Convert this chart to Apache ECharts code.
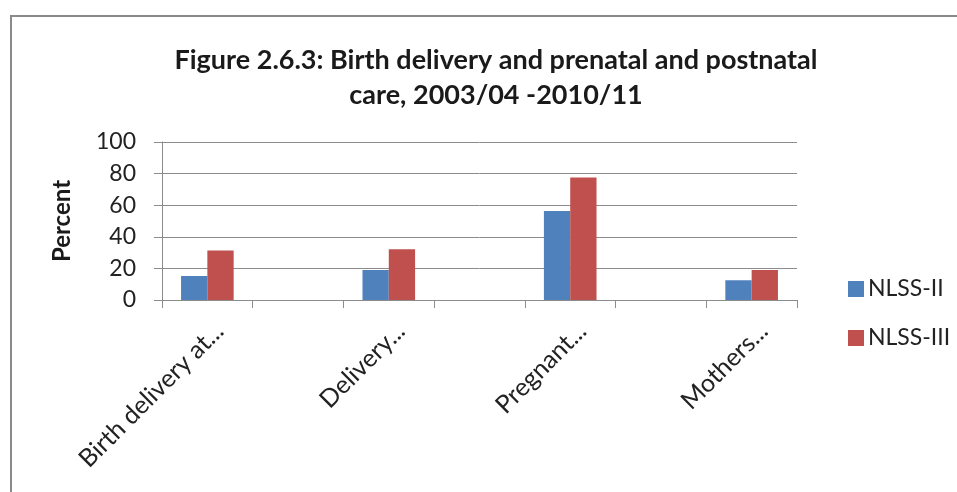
<!DOCTYPE html>
<html>
<head>
<meta charset="utf-8">
<script src="https://cdn.jsdelivr.net/npm/echarts@6/dist/echarts.min.js"></script>
<style>
html,body{margin:0;padding:0;background:#fff;}
#c{width:957px;height:492px;}
</style>
</head>
<body>
<div id="c"></div>
<script>
const titleLines = ["Figure 2.6.3: Birth delivery and prenatal and postnatal", "care, 2003/04 -2010/11"];
const categories = ["Birth delivery at...", "", "Delivery...", "", "Pregnant...", "", "Mothers..."];
const seriesNames = ["NLSS-II", "NLSS-III"];
const nlss2 = [15.2, null, 19.0, null, 56.4, null, 12.5];
const nlss3 = [31.3, null, 32.1, null, 77.6, null, 19.0];
const yTicks = [0, 20, 40, 60, 80, 100];
const yName = "Percent";

const chart = echarts.init(document.getElementById('c'), null, {renderer: 'canvas'});
const font = 'Lato, "Open Sans", sans-serif';
chart.setOption({
  animation: false,
  backgroundColor: '#fff',
  graphic: [{
    type: 'rect', silent: true, z: 0,
    shape: {x: 11, y: 16, width: 1000, height: 600},
    style: {fill: '#fff', stroke: '#8a8a8a', lineWidth: 2}
  }],
  title: {
    text: titleLines.join('\n'),
    left: 491, textAlign: 'center', top: 38,
    textStyle: {fontFamily: font, fontWeight: 'bold', fontSize: 27, lineHeight: 35, color: '#1a1a1a'}
  },
  legend: {
    orient: 'vertical', left: 843, top: 272, itemGap: 25,
    itemWidth: 16, itemHeight: 16, icon: 'rect',
    textStyle: {fontFamily: font, fontSize: 23, lineHeight: 24, color: '#222', padding: [0, 0, 0, -1]},
    data: seriesNames
  },
  grid: {left: 162, right: 160, top: 142, bottom: 192, containLabel: false},
  xAxis: {
    type: 'category', data: categories,
    axisLine: {lineStyle: {color: '#8c8c8c', width: 1}},
    axisTick: {show: true, length: 8, interval: 0, lineStyle: {color: '#8c8c8c'}},
    axisLabel: {interval: 0, rotate: 45, fontFamily: font, fontSize: 25, lineHeight: 34,
                verticalAlign: 'top', color: '#222', margin: 15}
  },
  yAxis: {
    type: 'value', min: yTicks[0], max: yTicks[yTicks.length - 1], interval: 20,
    name: yName, nameLocation: 'middle', nameGap: 88, nameRotate: 90,
    nameTextStyle: {fontFamily: font, fontWeight: 'bold', fontSize: 24, color: '#1a1a1a'},
    axisLine: {show: true, lineStyle: {color: '#8c8c8c'}},
    axisTick: {show: true, length: 8, lineStyle: {color: '#8c8c8c'}},
    axisLabel: {fontFamily: font, fontSize: 23, color: '#222', margin: 26},
    splitLine: {lineStyle: {color: '#8c8c8c', width: 1}}
  },
  series: [
    {name: seriesNames[0], type: 'bar', data: nlss2, itemStyle: {color: '#4F81BD'}, barGap: '0%', barCategoryGap: '42%'},
    {name: seriesNames[1], type: 'bar', data: nlss3, itemStyle: {color: '#C0504D'}, barGap: '0%', barCategoryGap: '42%'}
  ]
});
</script>
</body>
</html>
